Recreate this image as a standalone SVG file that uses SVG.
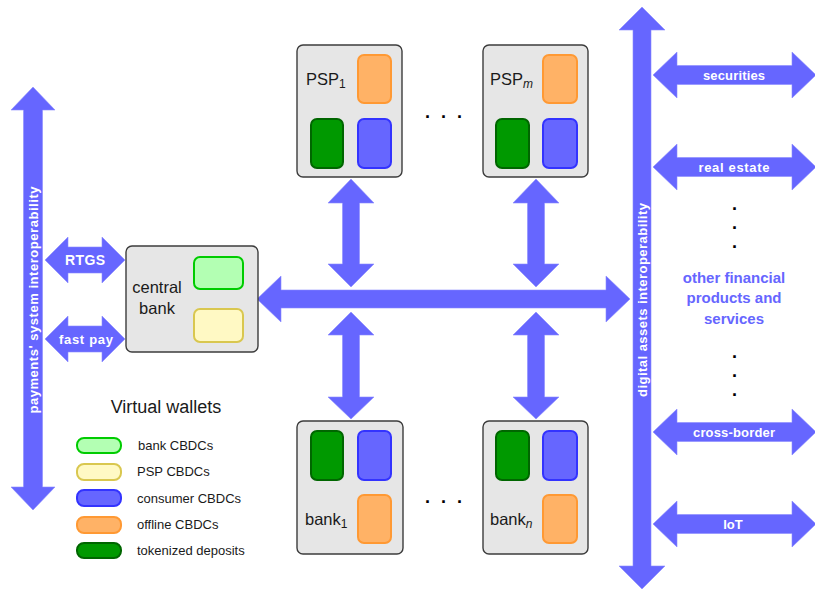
<svg xmlns="http://www.w3.org/2000/svg" width="815" height="590" viewBox="0 0 815 590">
  <style>
    text { font-family: "Liberation Sans", "DejaVu Sans", sans-serif; }
    .box { fill: #e6e6e6; stroke: #3c3c3c; stroke-width: 1.4; }
    .w-bank { fill: #b3ffb3; stroke: #00cc00; stroke-width: 2; }
    .w-psp { fill: #fff9c4; stroke: #d9c74f; stroke-width: 2; }
    .w-cons { fill: #6666ff; stroke: #3333ff; stroke-width: 2; }
    .w-off { fill: #ffb266; stroke: #ff9933; stroke-width: 2; }
    .w-tok { fill: #009900; stroke: #006600; stroke-width: 2; }
    .arrow { fill: #6666ff; stroke: #8c8cff; stroke-width: 0.6; }
    .lbl { font-size: 16.5px; fill: #1a1a1a; }
    .sub { font-size: 12px; fill: #1a1a1a; }
    .al { font-size: 13px; font-weight: bold; fill: #ffffff; text-anchor: middle; }
    .leg { font-size: 13px; fill: #1a1a1a; }
    .dots { font-size: 18px; font-weight: bold; fill: #000000; }
    .other { font-size: 15px; font-weight: bold; fill: #6666ff; text-anchor: middle; }
  </style>

  <!-- connectors: double-headed block arrows -->
  <g id="connectors">
    <!-- payments' system interoperability (left bus) -->
    <polygon class="arrow" points="33,87 55,110 42.5,110 42.5,487 55,487 33,510 11,487 23.5,487 23.5,110 11,110"/>
    <!-- RTGS -->
    <polygon class="arrow" points="45,260 68,237 68,247 102,247 102,237 125,260 102,283 102,273 68,273 68,283"/>
    <!-- fast pay -->
    <polygon class="arrow" points="45,339 68,316 68,326 102,326 102,316 125,339 102,362 102,352 68,352 68,362"/>
    <!-- main horizontal bus -->
    <polygon class="arrow" points="257,299 281,276 281,290 606,290 606,276 630,299 606,322 606,308 281,308 281,322"/>
    <!-- PSP links -->
    <polygon class="arrow" points="351,179 374,203 359.5,203 359.5,264 374,264 351,287 328,264 342.5,264 342.5,203 328,203"/>
    <polygon class="arrow" points="536,179 559,203 544.5,203 544.5,264 559,264 536,287 513,264 527.5,264 527.5,203 513,203"/>
    <!-- bank links -->
    <polygon class="arrow" points="351,312 374,335 359.5,335 359.5,397 374,397 351,419 328,397 342.5,397 342.5,335 328,335"/>
    <polygon class="arrow" points="536,312 559,335 544.5,335 544.5,397 559,397 536,419 513,397 527.5,397 527.5,335 513,335"/>
    <!-- digital assets interoperability (right bus) -->
    <polygon class="arrow" points="642,7 665,30 651,30 651,566 665,566 642,589 619,566 633,566 633,30 619,30"/>
    <!-- asset classes -->
    <polygon class="arrow" points="653,75 677,52 677,65.5 792,65.5 792,52 816,75 792,98 792,84.5 677,84.5 677,98"/>
    <polygon class="arrow" points="653,167 677,144 677,157.5 792,157.5 792,144 816,167 792,190 792,176.5 677,176.5 677,190"/>
    <polygon class="arrow" points="653,432 677,409 677,422.5 792,422.5 792,409 816,432 792,455 792,441.5 677,441.5 677,455"/>
    <polygon class="arrow" points="653,524 677,501 677,514.5 792,514.5 792,501 816,524 792,547 792,533.5 677,533.5 677,547"/>

    <!-- arrow labels -->
    <text class="al" x="0" y="0" transform="translate(37.8,300) rotate(-90)" textLength="227" lengthAdjust="spacing">payments' system interoperability</text>
    <text class="al" x="0" y="0" transform="translate(646.8,300) rotate(-90)" textLength="194" lengthAdjust="spacing">digital assets interoperability</text>
    <text class="al" x="85" y="265" style="font-size:14px" textLength="40" lengthAdjust="spacing">RTGS</text>
    <text class="al" x="86" y="343.5" textLength="54" lengthAdjust="spacing">fast pay</text>
    <text class="al" x="734" y="79.5" textLength="62" lengthAdjust="spacing">securities</text>
    <text class="al" x="734" y="171.5" textLength="71" lengthAdjust="spacing">real estate</text>
    <text class="al" x="734" y="436.5" textLength="82" lengthAdjust="spacing">cross-border</text>
    <text class="al" x="733" y="528.5">IoT</text>
  </g>

  <!-- central bank -->
  <g id="central-bank">
    <rect class="box" x="126" y="246" width="132" height="106" rx="6"/>
    <rect class="w-bank" x="194" y="257" width="49" height="32" rx="6"/>
    <rect class="w-psp" x="194" y="309" width="49" height="33" rx="6"/>
    <text class="lbl" x="157" y="293" text-anchor="middle">central</text>
    <text class="lbl" x="157" y="314" text-anchor="middle">bank</text>
  </g>

  <!-- payment service providers -->
  <g id="psp-1">
    <rect class="box" x="297" y="45" width="105" height="132" rx="6"/>
    <rect class="w-off" x="358" y="55" width="33" height="48" rx="6"/>
    <rect class="w-tok" x="311" y="119" width="32" height="49" rx="6"/>
    <rect class="w-cons" x="358" y="119" width="33" height="49" rx="6"/>
    <text class="lbl" x="306" y="85">PSP<tspan class="sub" dy="3">1</tspan></text>
  </g>
  <g id="psp-m">
    <rect class="box" x="483" y="45" width="105" height="132" rx="6"/>
    <rect class="w-off" x="543" y="55" width="34" height="48" rx="6"/>
    <rect class="w-tok" x="496" y="119" width="33" height="49" rx="6"/>
    <rect class="w-cons" x="543" y="119" width="34" height="49" rx="6"/>
    <text class="lbl" x="490" y="85">PSP<tspan class="sub" dy="3" font-style="italic">m</tspan></text>
  </g>
  <g id="psp-dots">
    <text class="dots" x="425 441 457" y="118">...</text>
  </g>

  <!-- commercial banks -->
  <g id="bank-1">
    <rect class="box" x="297" y="421" width="106" height="133" rx="6"/>
    <rect class="w-tok" x="311" y="431" width="32" height="49" rx="6"/>
    <rect class="w-cons" x="358" y="431" width="33" height="49" rx="6"/>
    <rect class="w-off" x="358" y="495" width="33" height="48" rx="6"/>
    <text class="lbl" x="305" y="525">bank<tspan class="sub" dy="3">1</tspan></text>
  </g>
  <g id="bank-n">
    <rect class="box" x="483" y="421" width="105" height="133" rx="6"/>
    <rect class="w-tok" x="496" y="431" width="33" height="49" rx="6"/>
    <rect class="w-cons" x="543" y="431" width="34" height="49" rx="6"/>
    <rect class="w-off" x="543" y="495" width="34" height="48" rx="6"/>
    <text class="lbl" x="490" y="525">bank<tspan class="sub" dy="3" font-style="italic">n</tspan></text>
  </g>
  <g id="bank-dots">
    <text class="dots" x="425 441 457" y="503">...</text>
  </g>

  <!-- other financial products and services -->
  <g id="other-products">
    <text class="dots" x="732 732 732" y="210 229 248">...</text>
    <text class="other" x="734" y="283">other financial</text>
    <text class="other" x="734" y="303">products and</text>
    <text class="other" x="734" y="324">services</text>
    <text class="dots" x="732 732 732" y="358 377 396">...</text>
  </g>

  <!-- legend -->
  <g id="legend">
    <text x="166" y="413" text-anchor="middle" style="font-size:18px;fill:#1a1a1a">Virtual wallets</text>
    <rect class="w-bank" x="77" y="438" width="44" height="15" rx="7"/>
    <rect class="w-psp" x="77" y="464" width="44" height="16" rx="7"/>
    <rect class="w-cons" x="77" y="490" width="44" height="16" rx="7"/>
    <rect class="w-off" x="77" y="517" width="44" height="16" rx="7"/>
    <rect class="w-tok" x="77" y="543" width="44" height="15" rx="7"/>
    <text class="leg" x="138" y="450">bank CBDCs</text>
    <text class="leg" x="137" y="476">PSP CBDCs</text>
    <text class="leg" x="137" y="503">consumer CBDCs</text>
    <text class="leg" x="137" y="529">offline CBDCs</text>
    <text class="leg" x="137" y="555">tokenized deposits</text>
  </g>
</svg>
